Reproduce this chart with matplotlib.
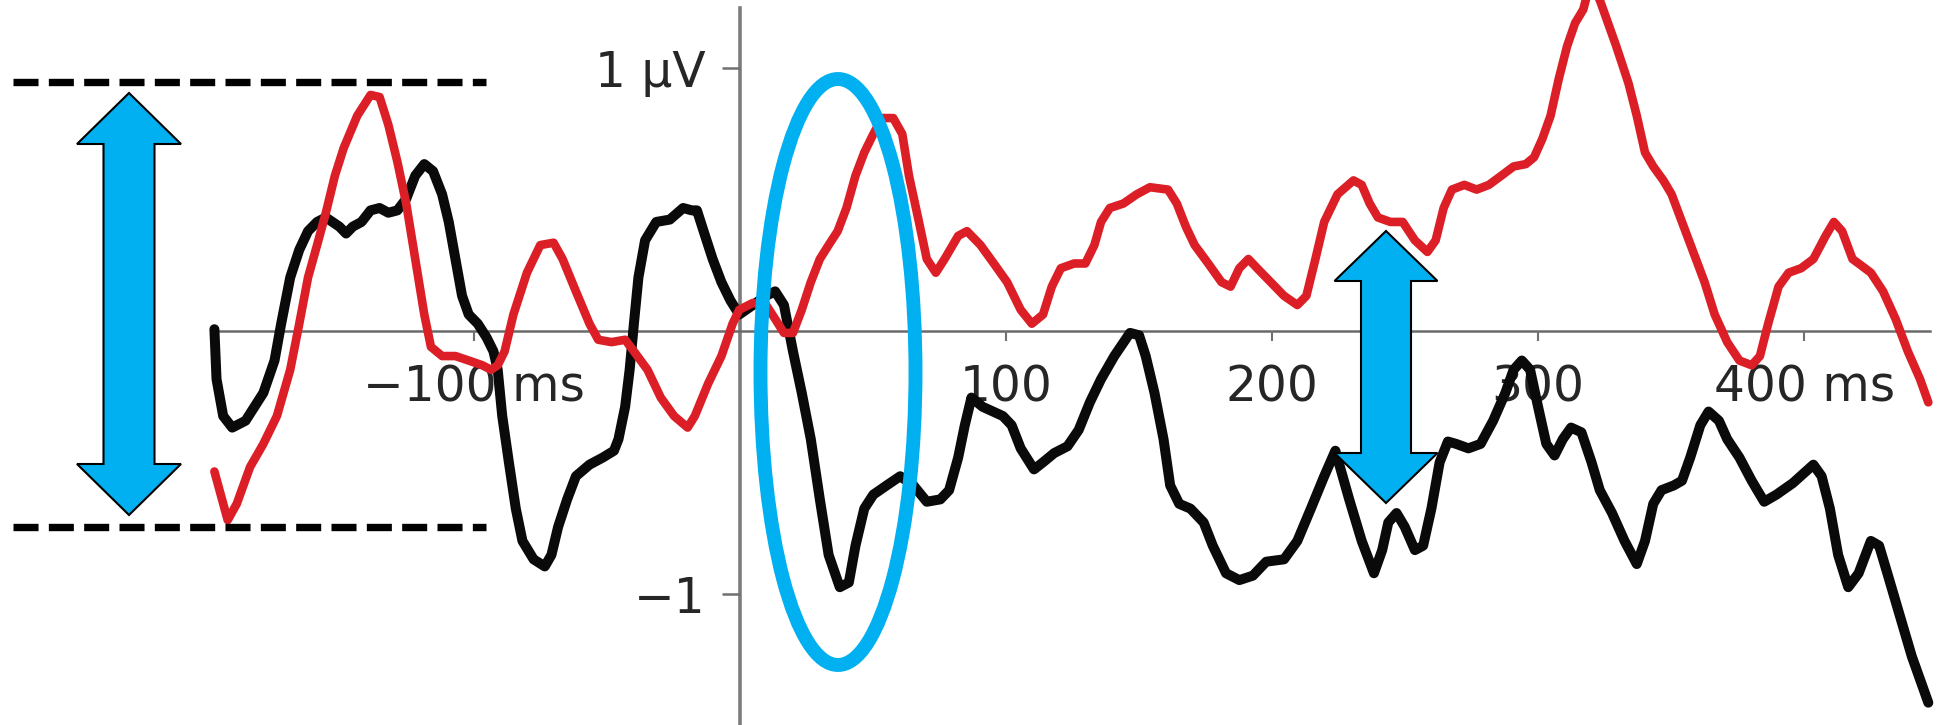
import matplotlib.pyplot as plt
import matplotlib.transforms as mtransforms
from matplotlib.patches import Polygon, Ellipse

# =========================
# Data (time in ms, amplitude in µV)
# =========================
black_ms = [-197.6, -196.8, -194.3, -190.9, -185.9, -179.2, -175.0, -172.5, -169.1, -165.7,
            -162.4, -159.0, -155.7, -150.6, -148.1, -145.6, -142.3, -138.9, -135.5, -132.2,
            -128.8, -125.5, -122.1, -118.7, -115.4, -112.0, -109.5, -107.0, -104.5, -102.0,
            -98.6, -95.3, -92.7, -91.1, -89.4, -86.9, -84.3, -81.8, -77.6, -73.4,
            -70.9, -68.4, -65.0, -61.7, -56.6, -51.6, -47.4, -45.7, -43.2, -41.5,
            -39.9, -38.2, -35.7, -31.5, -26.4, -21.4, -18.1,
            -16.2, -13.7, -10.3, -7.0, -3.6, -0.3, 4.8, 9.8, 13.2, 16.5,
            19.9, 23.2, 26.6, 30.0, 33.3, 37.5, 40.9, 43.4, 46.7, 50.1,
            55.1, 60.2, 65.2, 70.2, 75.3, 78.6, 82.0, 84.5, 87.0, 91.2,
            98.8, 102.1, 105.5, 110.5, 113.9, 118.1, 123.1, 127.3, 131.5, 135.7,
            140.7, 146.6, 150.0, 152.5, 155.8, 159.2, 161.7, 165.1, 169.3, 174.3,
            177.7, 182.7, 187.7, 192.8, 197.8, 204.5, 209.5, 214.6, 219.6, 223.8,
            229.0, 233.7, 238.3, 241.4, 243.7, 246.8, 249.9, 253.7, 256.8, 259.9,
            263.0, 266.1, 269.2, 273.8, 278.4, 283.1, 287.7, 290.8, 293.9, 297.0,
            300.0, 303.1, 306.2, 309.3, 312.4, 316.3, 320.1, 323.2, 327.8, 332.5,
            337.1, 340.2, 343.3, 346.4, 351.0, 354.1, 357.2, 361.0, 364.1, 368.0,
            371.1, 375.7, 380.3, 385.0, 389.6, 395.8, 403.5, 406.6, 409.7, 412.8,
            416.6, 420.5, 425.1, 428.2, 431.3, 435.9, 440.5, 446.7]
black_uv = [0.007, -0.183, -0.323, -0.367, -0.341, -0.235, -0.112, 0.028, 0.204, 0.309,
            0.380, 0.415, 0.432, 0.397, 0.371, 0.397, 0.415, 0.459, 0.468, 0.450,
            0.459, 0.503, 0.591, 0.635, 0.608, 0.520, 0.415, 0.274, 0.134, 0.063,
            0.028, -0.024, -0.077, -0.147, -0.323, -0.499, -0.675, -0.798, -0.868, -0.895,
            -0.851, -0.745, -0.640, -0.552, -0.508, -0.481, -0.455, -0.411, -0.288, -0.147,
            0.028, 0.204, 0.345, 0.415, 0.424, 0.468, 0.459,
            0.459, 0.380, 0.274, 0.186, 0.116, 0.063, 0.099, 0.134, 0.151, 0.099,
            -0.077, -0.235, -0.411, -0.640, -0.851, -0.974, -0.956, -0.816, -0.675, -0.622,
            -0.587, -0.552, -0.587, -0.649, -0.640, -0.605, -0.481, -0.358, -0.253, -0.288,
            -0.323, -0.358, -0.446, -0.526, -0.499, -0.464, -0.438, -0.376, -0.271, -0.183,
            -0.095, -0.007, -0.016, -0.095, -0.235, -0.411, -0.587, -0.657, -0.675, -0.728,
            -0.816, -0.921, -0.947, -0.930, -0.877, -0.868, -0.798, -0.675, -0.552, -0.455,
            -0.640, -0.798, -0.921, -0.833, -0.728, -0.692, -0.745, -0.833, -0.816, -0.675,
            -0.499, -0.420, -0.429, -0.446, -0.429, -0.341, -0.235, -0.147, -0.112, -0.147,
            -0.288, -0.429, -0.473, -0.411, -0.367, -0.385, -0.499, -0.605, -0.692, -0.798,
            -0.886, -0.798, -0.657, -0.605, -0.587, -0.569, -0.481, -0.358, -0.306, -0.341,
            -0.411, -0.481, -0.569, -0.649, -0.622, -0.578, -0.508, -0.552, -0.675, -0.851,
            -0.974, -0.921, -0.798, -0.816, -0.921, -1.079, -1.237, -1.413]

red_ms = [-197.6, -192.6, -189.2, -184.2, -179.2, -174.1, -169.1, -165.7, -162.4, -159.0,
          -155.7, -152.3, -149.0, -143.9, -138.9, -135.5, -132.2, -128.8, -125.5, -122.1,
          -118.7, -116.2, -112.0, -107.0, -102.0, -96.9, -93.6, -91.1, -88.5, -85.2,
          -80.1, -75.1, -70.1, -66.7, -61.7, -56.6, -53.3, -48.3, -43.2, -39.9,
          -34.8, -29.8, -24.8, -19.7,
          -17.0, -12.0, -7.0, -2.8, -0.3, 4.8, 9.8, 13.2, 16.5, 19.9,
          23.2, 26.6, 30.0, 33.3, 36.7, 40.0, 43.4, 46.7, 50.1, 53.4,
          57.6, 61.0, 63.5, 66.9, 70.2, 73.6, 76.9, 82.0, 85.3, 90.4,
          95.4, 100.4, 105.5, 109.7, 113.9, 117.2, 120.6, 125.6, 129.8, 133.2,
          135.7, 139.0, 144.1, 149.1, 154.1, 160.9, 164.2, 167.6, 170.9, 176.0,
          181.0, 184.4, 187.7, 191.1, 194.4, 199.5, 204.5, 209.5, 212.9, 216.3,
          219.6,
          224.6, 230.6, 233.7, 236.7, 239.8, 244.5, 249.1, 253.7, 258.4, 261.5,
          264.5, 267.6, 272.3, 276.9, 281.5, 286.2, 290.8, 295.4, 298.5, 301.6,
          304.7, 307.8, 310.9, 313.9, 317.0, 319.5, 323.2, 326.3, 329.4, 334.0,
          337.1, 340.2, 343.3, 347.1, 350.2, 354.1, 358.7, 362.6, 366.4, 371.1,
          375.7, 380.3, 383.4, 386.5, 390.4, 394.2, 398.9, 403.5, 408.1, 411.2,
          414.3, 418.2, 420.5, 425.1, 429.7, 434.4, 439.0, 443.6, 446.7]
red_uv = [-0.534, -0.719, -0.657, -0.517, -0.429, -0.323, -0.147, 0.028, 0.204, 0.327,
          0.450, 0.591, 0.696, 0.819, 0.898, 0.890, 0.784, 0.643, 0.485, 0.274,
          0.063, -0.060, -0.095, -0.095, -0.112, -0.130, -0.147, -0.130, -0.077, 0.063,
          0.222, 0.327, 0.336, 0.274, 0.151, 0.028, -0.033, -0.042, -0.033, -0.077,
          -0.147, -0.253, -0.323, -0.367,
          -0.323, -0.200, -0.095, 0.028, 0.081, 0.107, 0.099, 0.046, -0.007, -0.007,
          0.081, 0.186, 0.274, 0.327, 0.380, 0.468, 0.591, 0.679, 0.749, 0.810,
          0.810, 0.749, 0.591, 0.432, 0.274, 0.222, 0.274, 0.362, 0.380, 0.327,
          0.257, 0.186, 0.081, 0.028, 0.063, 0.169, 0.239, 0.257, 0.257, 0.327,
          0.415, 0.468, 0.485, 0.520, 0.547, 0.538, 0.485, 0.397, 0.327, 0.257,
          0.186, 0.169, 0.239, 0.274, 0.239, 0.186, 0.134, 0.099, 0.134, 0.274,
          0.415,
          0.520, 0.573, 0.556, 0.485, 0.432, 0.415, 0.415, 0.345, 0.301, 0.345,
          0.468, 0.538, 0.556, 0.538, 0.556, 0.591, 0.626, 0.635, 0.661, 0.731,
          0.819, 0.960, 1.083, 1.171, 1.223, 1.320, 1.259, 1.171, 1.083, 0.942,
          0.819, 0.679, 0.626, 0.573, 0.520, 0.415, 0.292, 0.186, 0.063, -0.042,
          -0.112, -0.130, -0.095, 0.028, 0.169, 0.222, 0.239, 0.274, 0.362, 0.415,
          0.380, 0.274, 0.257, 0.222, 0.151, 0.046, -0.077, -0.183, -0.271]

xtick_ms = [-100, 100, 200, 300, 400]
xtick_labels = ['\u2212100 ms', '100', '200', '300', '400 ms']
ytick_uv = [-1, 1]
ytick_labels = ['\u22121', '1 \u00b5V']

# =========================
# Figure
# =========================
W, H = 1944, 725
fig = plt.figure(figsize=(W / 100, H / 100), dpi=100)
ax = fig.add_axes([0, 0, 1, 1])
ax.set_xlim(-278.2, 452.6)
ax.set_ylim(-1.498, 1.259)

ax.plot(black_ms, black_uv, color='#0a0a0a', lw=7.2, solid_joinstyle='round',
        solid_capstyle='round', zorder=3)
ax.plot(red_ms, red_uv, color='#dc1f26', lw=6.2, solid_joinstyle='round',
        solid_capstyle='round', zorder=4)

# axes through the origin
for s in ['top', 'right']:
    ax.spines[s].set_visible(False)
ax.spines['left'].set_position(('data', 0))
ax.spines['bottom'].set_position(('data', 0))
ax.spines['left'].set_bounds(-1.498, 1.228)
ax.spines['bottom'].set_bounds(-198, 447.5)
ax.spines['left'].set_color('#7c7c7c')
ax.spines['left'].set_linewidth(2.6)
ax.spines['bottom'].set_color('#6a6a6a')
ax.spines['bottom'].set_linewidth(1.8)
for s in ax.spines.values():
    s.set_zorder(1)

ax.set_xticks(xtick_ms, xtick_labels)
ax.set_yticks(ytick_uv, ytick_labels)
ax.tick_params(axis='x', direction='out', length=7, width=1.5, color='#707070',
               labelcolor='#262626', labelsize=35, pad=16)
ax.tick_params(axis='y', direction='out', length=13, width=1.8, color='#707070',
               labelcolor='#262626', labelsize=35, pad=12)

# =========================
# Annotations (image pixel coordinates, y downwards)
# =========================
img = mtransforms.Affine2D().scale(1 / W, -1 / H).translate(0, 1) + fig.transFigure
blue = '#00b0f0'


def double_arrow(cx, top, bottom, head_w, shaft_w, head_len):
    return [(cx, top), (cx + head_w / 2, top + head_len), (cx + shaft_w / 2, top + head_len),
            (cx + shaft_w / 2, bottom - head_len), (cx + head_w / 2, bottom - head_len),
            (cx, bottom), (cx - head_w / 2, bottom - head_len),
            (cx - shaft_w / 2, bottom - head_len), (cx - shaft_w / 2, top + head_len),
            (cx - head_w / 2, top + head_len)]


for verts in [double_arrow(129, 93, 515, 104, 51, 51),
              double_arrow(1386, 231, 503, 103, 50, 50)]:
    ax.add_patch(Polygon(verts, closed=True, facecolor=blue, edgecolor='black',
                         lw=1.5, transform=img, zorder=6, clip_on=False))

ax.add_patch(Ellipse((838, 372), 155, 586, fill=False, edgecolor=blue, lw=10,
                     transform=img, zorder=6, clip_on=False))

for yy in [82, 527]:
    ax.plot([12.5, 486], [yy, yy], color='black', lw=5.3, dashes=(3.4, 1.4),
            transform=img, zorder=6, clip_on=False)

fig.savefig('out.png', dpi=100)
